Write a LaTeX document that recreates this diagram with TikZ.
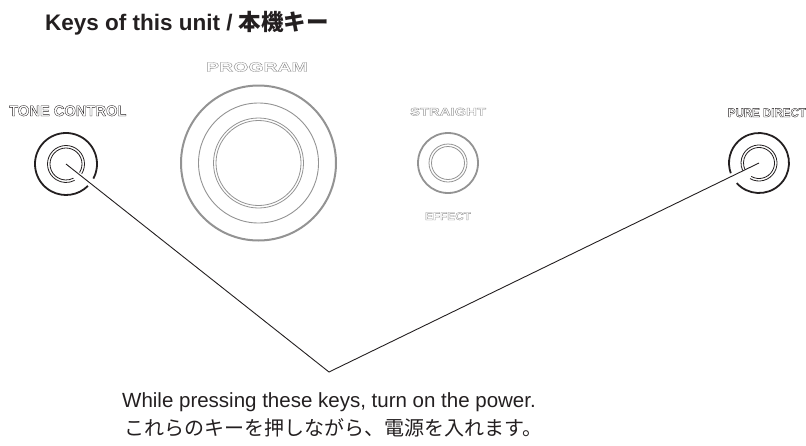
\documentclass[tikz,border=0pt]{standalone}
\usepackage{fontspec}
\setmainfont{Liberation Sans}
\newfontfamily\jpfont{Noto Sans CJK JP}
\usepackage{graphicx}
\usepackage{xcolor}
\usetikzlibrary{positioning}

\definecolor{inkgray}{HTML}{231F20}
\definecolor{panelgray}{HTML}{939393}

% hollow (outlined) panel lettering
\newcommand{\hollow}[1]{\special{pdf:literal direct 1 Tr 0.35 w}#1\special{pdf:literal direct 0 Tr}}

\begin{document}
\begin{tikzpicture}[
		x=1pt, y=1pt,
		keylabel/.style={
			inner sep=0pt,
			anchor=base
		},
		bigring/.style={line width=1.8pt},
		thinring/.style={line width=0.8pt},
		callout/.style={draw=inkgray, line width=0.9pt}
		]
		\useasboundingbox (0,0) rectangle (806,-445);
		
		\node[keylabel, anchor=base west, text=inkgray,
			font=\fontsize{22.5}{24}\selectfont\bfseries] (title) at (45,-30.5)
			{Keys of this unit / {\jpfont\bfseries 本機キー}};
		
		% keys
		\coordinate (tone) at (66,-164);
		\coordinate (program) at (258.5,-163);
		\coordinate (straight) at (448,-163);
		\coordinate (pure) at (759,-163);
		\coordinate (apex) at (329,-372);
		
		\node[keylabel, anchor=base west, text=inkgray, font=\fontsize{15}{15}\selectfont\bfseries]
			(tonelabel) at (9,-116) {\scalebox{0.98}[1]{\hollow{TONE CONTROL}}};
		\node[keylabel, text=panelgray, font=\fontsize{13}{13}\selectfont\bfseries]
			(programlabel) at (257,-71.5) {\scalebox{1.5}[1]{\hollow{PROGRAM}}};
		\node[keylabel, text=panelgray, font=\fontsize{11}{11}\selectfont\bfseries]
			(straightlabel) at (448,-115.5) {\scalebox{1.35}[1]{\hollow{STRAIGHT}}};
		\node[keylabel, text=panelgray, font=\fontsize{11}{11}\selectfont\bfseries]
			(effectlabel) at (448,-220) {\scalebox{1.07}[1]{\hollow{EFFECT}}};
		\node[keylabel, anchor=base east, text=inkgray, font=\fontsize{12.5}{12.5}\selectfont\bfseries]
			(purelabel) at (806,-117) {\scalebox{0.92}[1]{\hollow{PURE DIRECT}}};
		
		% TONE CONTROL
		\draw[bigring, inkgray] ([shift={(-28:31)}]tone) arc[start angle=-28, end angle=315, radius=31];
		\draw[thinring, inkgray] ([shift={(-32:18.5)}]tone) arc[start angle=-32, end angle=298, radius=18.5];
		\draw[thinring, inkgray] ([shift={(-32:16)}]tone) arc[start angle=-32, end angle=298, radius=16];
		
		% PROGRAM
		\draw[line width=2pt, panelgray] (program) circle[radius=77.5];
		\draw[line width=0.9pt, panelgray] (program) circle[radius=60];
		\draw[thinring, panelgray] (program) circle[radius=45];
		\draw[thinring, panelgray] (program) circle[radius=42.5];
		
		% STRAIGHT
		\draw[bigring, panelgray] (straight) circle[radius=30];
		\draw[thinring, panelgray] (straight) circle[radius=19];
		\draw[thinring, panelgray] (straight) circle[radius=16.5];
		
		% PURE DIRECT
		\draw[bigring, inkgray] ([shift={(222:30)}]pure) arc[start angle=222, end angle=560, radius=30];
		\draw[thinring, inkgray] ([shift={(240:18)}]pure) arc[start angle=240, end angle=565, radius=18];
		\draw[thinring, inkgray] ([shift={(240:15.5)}]pure) arc[start angle=240, end angle=565, radius=15.5];
		
		\draw[callout] (tone) -- (apex) -- (pure);
		
		\node[keylabel, text=inkgray, font=\fontsize{20.5}{22}\selectfont]
			(note) at (329,-407) {While pressing these keys, turn on the power.};
		\node[keylabel, text=inkgray, font=\fontsize{20}{22}\selectfont\jpfont]
			(notejp) at (333,-435) {これらのキーを押しながら、電源を入れます。};
		
	\end{tikzpicture}
\end{document}
